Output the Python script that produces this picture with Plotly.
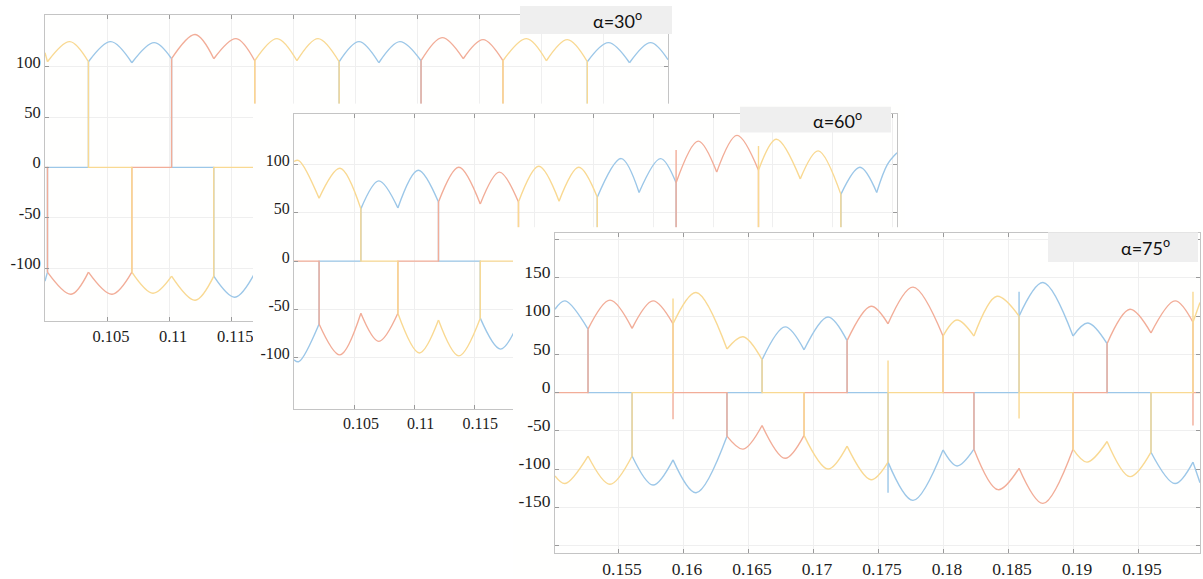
import plotly.graph_objects as go

# ---------------- colours ----------------
BLUE = "#9cc7e8"
ORANGE = "#f2ad98"
YELLOW = "#f9d992"

# ================= PANEL 1 (alpha = 30 deg) =================
p1_title = "α=30<sup>o</sup>"
p1_xtick_vals = [0.105, 0.11, 0.115]
p1_xtick_text = ["0.105", "0.11", "0.115"]
p1_xminor_vals = [0.12, 0.125, 0.13, 0.135, 0.14, 0.145]
p1_ytick_vals = [-100, -50, 0, 50, 100]
p1_ytick_text = ["-100", "-50", "0", "50", "100"]

p1_blue_arc_t = [0.1035, 0.1053, 0.1070, None, 0.1070, 0.1088, 0.1102, None,
                 0.1237, 0.1253, 0.1269, None, 0.1269, 0.1286, 0.1303, None,
                 0.1437, 0.1454, 0.1471, None, 0.1471, 0.1488, 0.1502, None,
                 0.1000, 0.1002, None, 0.1136, 0.1153, 0.1169]
p1_blue_arc_v = [105, 125, 104, None, 104, 124, 108, None,
                 105, 125, 104, None, 104, 125, 106, None,
                 105, 124, 104, None, 104, 124, 107, None,
                 -113, -104, None, -108, -129, -105]
p1_orange_arc_t = [0.1102, 0.1121, 0.1136, None, 0.1136, 0.1154, 0.1169, None,
                   0.1303, 0.1320, 0.1337, None, 0.1337, 0.1353, 0.1369, None,
                   0.1002, 0.1021, 0.1035, None, 0.1035, 0.1054, 0.1070]
p1_orange_arc_v = [108, 132, 108, None, 108, 128, 106, None,
                   106, 129, 108, None, 108, 127, 106, None,
                   -104, -126, -104, None, -104, -126, -104]
p1_yellow_arc_t = [0.1000, 0.1002, None, 0.1002, 0.1020, 0.1035, None,
                   0.1169, 0.1187, 0.1203, None, 0.1203, 0.1220, 0.1237, None,
                   0.1369, 0.1388, 0.1404, None, 0.1404, 0.1421, 0.1437, None,
                   0.1070, 0.1087, 0.1102, None, 0.1102, 0.1121, 0.1136]
p1_yellow_arc_v = [114, 105, None, 105, 125, 105, None,
                   106, 128, 106, None, 106, 128, 105, None,
                   106, 128, 106, None, 106, 127, 105, None,
                   -104, -125, -108, None, -108, -132, -108]

p1_blue_step_t = [0.1002, 0.1002, 0.1035, 0.1035, None, 0.1102, 0.1102, 0.1136, 0.1136, None,
                  0.1237, 0.1237, None, 0.1303, 0.1303, None, 0.1437, 0.1437]
p1_blue_step_v = [-104, 0, 0, 105, None, 108, 0, 0, -108, None,
                  0, 105, None, 106, 0, None, 0, 105]
p1_orange_step_t = [0.1000, 0.1002, 0.1002, None, 0.1070, 0.1070, 0.1102, 0.1102, None,
                    0.1169, 0.1169, 0.1203, None, 0.1303, 0.1303, None, 0.1369, 0.1369]
p1_orange_step_v = [0, 0, -104, None, -104, 0, 0, 108, None,
                    106, 0, 0, None, 0, 106, None, 106, 0]
p1_yellow_step_t = [0.1035, 0.1035, 0.1070, 0.1070, None, 0.1136, 0.1136, 0.1169, 0.1169, None,
                    0.1237, 0.1237, None, 0.1369, 0.1369, None, 0.1437, 0.1437]
p1_yellow_step_v = [105, 0, 0, -104, None, -108, 0, 0, 106, None,
                    105, 0, None, 0, 106, None, 105, 0]

# ================= PANEL 2 (alpha = 60 deg) =================
p2_title = "α=60<sup>o</sup>"
p2_xtick_vals = [0.105, 0.11, 0.115]
p2_xtick_text = ["0.105", "0.11", "0.115"]
p2_xminor_vals = [0.12, 0.125, 0.13, 0.135, 0.14, 0.145, 0.15]
p2_ytick_vals = [-100, -50, 0, 50, 100]
p2_ytick_text = ["-100", "-50", "0", "50", "100"]

p2_blue_arc_t = [0.1055, 0.1070, 0.1086, None, 0.1086, 0.1103, 0.1120, None,
                 0.1253, 0.1273, 0.1288, None, 0.1288, 0.1306, 0.1319, None,
                 0.1457, 0.1473, 0.1487, None, 0.1487, 0.1496, 0.1504, None,
                 0.0999, 0.1003, 0.1020, None, 0.1155, 0.1172, 0.1188]
p2_blue_arc_v = [54, 83, 55, None, 55, 94, 61, None,
                 66, 106, 71, None, 71, 106, 81, None,
                 69, 97, 71, None, 71, 100, 112, None,
                 -102, -104, -65, None, -59, -91, -61]
p2_orange_arc_t = [0.1120, 0.1137, 0.1155, None, 0.1155, 0.1171, 0.1187, None,
                   0.1319, 0.13375, 0.1353, None, 0.1353, 0.1370, 0.1388, None,
                   0.1020, 0.10375, 0.1055, None, 0.1055, 0.1070, 0.1086]
p2_orange_arc_v = [61, 97, 59, None, 59, 92, 61, None,
                   81, 124, 92, None, 92, 130, 94, None,
                   -65, -97, -54, None, -54, -83, -54]
p2_yellow_arc_t = [0.0999, 0.1003, 0.1020, None, 0.1020, 0.10375, 0.1055, None,
                   0.1187, 0.1204, 0.1221, None, 0.1221, 0.12375, 0.1253, None,
                   0.1388, 0.1403, 0.1423, None, 0.1423, 0.1438, 0.1457, None,
                   0.1086, 0.1104, 0.1120, None, 0.1120, 0.1137, 0.1155]
p2_yellow_arc_v = [103, 104, 65, None, 65, 96, 54, None,
                   61, 98, 62, None, 62, 97, 66, None,
                   94, 126, 85, None, 85, 114, 69, None,
                   -54, -95, -61, None, -61, -98, -59]

p2_blue_step_t = [0.1020, 0.1020, 0.1055, 0.1055, None, 0.1120, 0.1120, 0.1155, 0.1155, None,
                  0.1253, 0.1253, None, 0.1319, 0.1319, None, 0.1457, 0.1457]
p2_blue_step_v = [-65, 0, 0, 54, None, 61, 0, 0, -59, None,
                  0, 66, None, 81, 0, None, 0, 69]
p2_orange_step_t = [0.0999, 0.1020, 0.1020, None, 0.1086, 0.1086, 0.1120, 0.1120, None,
                    0.1187, 0.1187, 0.1221, None, 0.1319, 0.1319, None, 0.1388, 0.1388]
p2_orange_step_v = [0, 0, -65, None, -54, 0, 0, 61, None,
                    61, 0, 0, None, 0, 115, None, 94, 0]
p2_yellow_step_t = [0.1055, 0.1055, 0.1086, 0.1086, None, 0.1155, 0.1155, 0.1187, 0.1187, None,
                    0.1253, 0.1253, None, 0.1388, 0.1388, None, 0.1457, 0.1457]
p2_yellow_step_v = [54, 0, 0, -54, None, -59, 0, 0, 61, None,
                    66, 0, None, 0, 119, None, 69, 0]

# ================= PANEL 3 (alpha = 75 deg) =================
p3_title = "α=75<sup>o</sup>"
p3_xtick_vals = [0.155, 0.16, 0.165, 0.17, 0.175, 0.18, 0.185, 0.19, 0.195]
p3_xtick_text = ["0.155", "0.16", "0.165", "0.17", "0.175", "0.18", "0.185", "0.19", "0.195"]
p3_ytick_vals = [-150, -100, -50, 0, 50, 100, 150]
p3_ytick_text = ["-150", "-100", "-50", "0", "50", "100", "150"]
p3_yminor_vals = [-200, 200]

p3_blue_arc_t = [0.15015, 0.15092, 0.15269, None, 0.16608, 0.16785, 0.16931, None,
                 0.16931, 0.17115, 0.17262, None, 0.18585, 0.18769, 0.19000, None,
                 0.19000, 0.19115, 0.19262, None,
                 0.15608, 0.15769, 0.15923, None, 0.15923, 0.16100, 0.16338, None,
                 0.17577, 0.17769, 0.18000, None, 0.18000, 0.18108, 0.18238, None,
                 0.19600, 0.19785, 0.19923, None, 0.19923, 0.19977]
p3_blue_arc_v = [109, 120, 83, None, 43, 86, 56, None,
                 56, 99, 68, None, 100, 144, 74, None,
                 74, 91, 64, None,
                 -83, -121, -88, None, -88, -131, -57, None,
                 -91, -141, -75, None, -75, -96, -74, None,
                 -78, -119, -91, None, -91, -118]
p3_orange_arc_t = [0.15269, 0.15438, 0.15608, None, 0.15608, 0.15769, 0.15923, None,
                   0.17262, 0.17446, 0.17577, None, 0.17577, 0.17769, 0.18000, None,
                   0.19262, 0.19438, 0.19600, None, 0.19600, 0.19785, 0.19923, None,
                   0.16338, 0.16462, 0.16608, None, 0.16608, 0.16785, 0.16931, None,
                   0.18238, 0.18423, 0.18585, None, 0.18585, 0.18769, 0.19000]
p3_orange_arc_v = [83, 121, 84, None, 84, 120, 90, None,
                   68, 113, 90, None, 90, 138, 74, None,
                   64, 109, 78, None, 78, 120, 92, None,
                   -57, -74, -43, None, -43, -86, -56, None,
                   -74, -127, -99, None, -99, -145, -74]
p3_yellow_arc_t = [0.15923, 0.16100, 0.16338, None, 0.16338, 0.16462, 0.16608, None,
                   0.18000, 0.18108, 0.18238, None, 0.18238, 0.18415, 0.18585, None,
                   0.19923, 0.19977, None,
                   0.15015, 0.15092, 0.15269, None, 0.15269, 0.15438, 0.15608, None,
                   0.16931, 0.17115, 0.17262, None, 0.17262, 0.17446, 0.17577, None,
                   0.19000, 0.19108, 0.19262, None, 0.19262, 0.19438, 0.19600]
p3_yellow_arc_v = [90, 131, 57, None, 57, 73, 43, None,
                   74, 95, 74, None, 74, 126, 100, None,
                   92, 118, None,
                   -109, -119, -83, None, -83, -120, -83, None,
                   -56, -100, -70, None, -70, -114, -91, None,
                   -74, -91, -64, None, -64, -110, -78]

p3_blue_step_t = [0.15269, 0.15269, 0.15608, 0.15608, None, 0.16338, 0.16338, 0.16608, 0.16608, None,
                  0.17262, 0.17262, 0.17577, 0.17577, None, 0.18238, 0.18238, 0.18585, 0.18585, None,
                  0.19262, 0.19262, 0.19600, 0.19600]
p3_blue_step_v = [83, 0, 0, -83, None, -57, 0, 0, 43, None,
                  68, 0, 0, -131, None, -74, 0, 0, 132, None,
                  64, 0, 0, -78]
p3_orange_step_t = [0.15015, 0.15269, 0.15269, None, 0.15923, 0.15923, 0.15923, 0.16338, 0.16338, None,
                    0.16931, 0.16931, 0.17262, 0.17262, None, 0.18000, 0.18000, 0.18238, 0.18238, None,
                    0.19000, 0.19000, 0.19262, 0.19262, None, 0.19923, 0.19923, 0.19923, 0.19977]
p3_orange_step_v = [0, 0, 83, None, 90, -35, 0, 0, -57, None,
                    -56, 0, 0, 68, None, 74, 0, 0, -74, None,
                    -74, 0, 0, 64, None, 92, -43, 0, 0]
p3_yellow_step_t = [0.15608, 0.15608, 0.15923, 0.15923, None, 0.16608, 0.16608, 0.16931, 0.16931, None,
                    0.17577, 0.17577, 0.17577, 0.18000, 0.18000, None,
                    0.18585, 0.18585, 0.18585, 0.19000, 0.19000, None,
                    0.19600, 0.19600, 0.19923, 0.19923]
p3_yellow_step_v = [-83, 0, 0, 123, None, 43, 0, 0, -56, None,
                    -91, 42, 0, 0, 74, None,
                    100, -34, 0, 0, -74, None,
                    -78, 0, 0, 132]

# ---------------- assemble ----------------
panels = [
    dict(ax=("x", "y"), series=[
        (BLUE, p1_blue_step_t, p1_blue_step_v, p1_blue_arc_t, p1_blue_arc_v),
        (ORANGE, p1_orange_step_t, p1_orange_step_v, p1_orange_arc_t, p1_orange_arc_v),
        (YELLOW, p1_yellow_step_t, p1_yellow_step_v, p1_yellow_arc_t, p1_yellow_arc_v)]),
    dict(ax=("x3", "y3"), series=[
        (BLUE, p2_blue_step_t, p2_blue_step_v, p2_blue_arc_t, p2_blue_arc_v),
        (ORANGE, p2_orange_step_t, p2_orange_step_v, p2_orange_arc_t, p2_orange_arc_v),
        (YELLOW, p2_yellow_step_t, p2_yellow_step_v, p2_yellow_arc_t, p2_yellow_arc_v)]),
    dict(ax=("x5", "y5"), series=[
        (BLUE, p3_blue_step_t, p3_blue_step_v, p3_blue_arc_t, p3_blue_arc_v),
        (ORANGE, p3_orange_step_t, p3_orange_step_v, p3_orange_arc_t, p3_orange_arc_v),
        (YELLOW, p3_yellow_step_t, p3_yellow_step_v, p3_yellow_arc_t, p3_yellow_arc_v)]),
]

fig = go.Figure()


def add_panel(p):
    xa, ya = p["ax"]
    for color, st, sv, at, av in p["series"]:
        fig.add_trace(go.Scatter(x=st, y=sv, xaxis=xa, yaxis=ya, mode="lines",
                                 line=dict(color=color, width=1.4), connectgaps=False,
                                 showlegend=False, hoverinfo="skip"))
        fig.add_trace(go.Scatter(x=at, y=av, xaxis=xa, yaxis=ya, mode="lines",
                                 line=dict(color=color, width=1.4, shape="spline", smoothing=1.0),
                                 connectgaps=False, showlegend=False, hoverinfo="skip"))


def add_cover(xa, ya):
    fig.add_trace(go.Scatter(x=[], y=[], xaxis=xa, yaxis=ya, mode="lines",
                             showlegend=False, hoverinfo="skip"))


add_panel(panels[0])
add_cover("x2", "y2")
add_panel(panels[1])
add_cover("x4", "y4")
add_panel(panels[2])

W, H = 1203, 579
GRID = "#efefef"


def px_dom_x(a, b):
    return [a / W, b / W]


def px_dom_y(top, bottom):
    return [1 - bottom / H, 1 - top / H]


def data_axis(dom, rng, anchor, tv, tt, fsize, minor_vals=None, shift=0):
    ax = dict(domain=dom, range=rng, anchor=anchor, tickvals=tv, ticktext=tt,
              showline=True, linecolor="#c4c4c4", linewidth=1, mirror="ticks",
              ticks="inside", ticklen=4, tickcolor="#9a9a9a", tickwidth=1,
              showgrid=True, gridcolor=GRID, gridwidth=1, zeroline=False,
              tickfont=dict(family="Liberation Serif", size=fsize, color="#1c1c1c"),
              ticklabelshift=shift, fixedrange=True)
    if minor_vals:
        ax["minor"] = dict(tickmode="array", tickvals=minor_vals, ticks="inside", ticklen=4,
                           tickcolor="#9a9a9a", tickwidth=1, showgrid=True,
                           gridcolor=GRID, gridwidth=1)
    return ax


def cover_axis(dom, anchor):
    return dict(domain=dom, range=[0, 1], anchor=anchor, visible=False, fixedrange=True)


layout = dict(
    width=W, height=H, autosize=False,
    margin=dict(l=0, r=0, t=0, b=0, pad=0),
    paper_bgcolor="white", plot_bgcolor="#fffffe",
    xaxis=data_axis(px_dom_x(45, 668), [0.1, 0.1502], "y", p1_xtick_vals, p1_xtick_text, 16.5,
                    p1_xminor_vals, shift=4),
    yaxis=data_axis(px_dom_y(15, 322), [-152.5, 151.5], "x", p1_ytick_vals, p1_ytick_text, 16.5,
                    shift=-5),
    xaxis2=cover_axis(px_dom_x(253, 905), "y2"),
    yaxis2=cover_axis(px_dom_y(104, 445), "x2"),
    xaxis3=data_axis(px_dom_x(294, 897), [0.0999, 0.1504], "y3", p2_xtick_vals, p2_xtick_text, 16,
                     p2_xminor_vals, shift=6),
    yaxis3=data_axis(px_dom_y(114, 410), [-152.5, 152.5], "x3", p2_ytick_vals, p2_ytick_text, 16,
                     shift=-4),
    xaxis4=cover_axis(px_dom_x(513, 1203), "y4"),
    yaxis4=cover_axis(px_dom_y(228, 579), "x4"),
    xaxis5=data_axis(px_dom_x(555, 1200), [0.15015, 0.19977], "y5", p3_xtick_vals, p3_xtick_text, 17.5,
                     shift=4),
    yaxis5=data_axis(px_dom_y(234, 555), [-210, 208.6], "x5", p3_ytick_vals, p3_ytick_text, 17.5,
                     p3_yminor_vals, shift=-6),
)
fig.update_layout(**layout)

# title boxes
boxes = [((520, 6, 672, 34), p1_title, (617, 20)),
         ((740, 107, 891, 133), p2_title, (837, 120)),
         ((1048, 233, 1198, 263), p3_title, (1145, 248))]
for (x0, y0, x1, y1), txt, (cx, cy) in boxes:
    fig.add_shape(type="rect", xref="paper", yref="paper",
                  x0=x0 / W, x1=x1 / W, y0=1 - y1 / H, y1=1 - y0 / H,
                  fillcolor="#efefef", line=dict(width=0), layer="above")
    fig.add_annotation(x=cx / W, y=1 - cy / H, xref="paper", yref="paper",
                       text=txt, showarrow=False, xanchor="center", yanchor="middle",
                       font=dict(family="Lato", size=18, color="#111111"))

fig.write_html("out.html", config={"displayModeBar": False},
               post_script="document.body.style.margin='0px';")
